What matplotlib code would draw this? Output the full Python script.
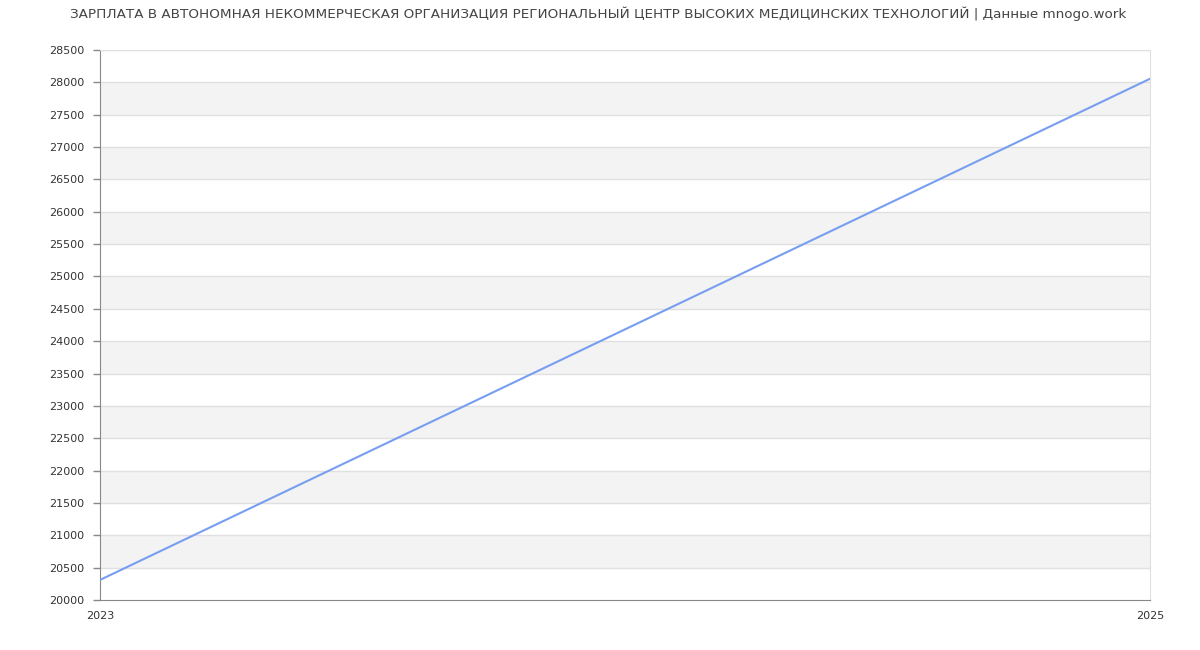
import numpy as np
import matplotlib.pyplot as plt

years = [2023, 2025]
salary = [20310, 28055]
title = 'ЗАРПЛАТА В АВТОНОМНАЯ НЕКОММЕРЧЕСКАЯ ОРГАНИЗАЦИЯ РЕГИОНАЛЬНЫЙ ЦЕНТР ВЫСОКИХ МЕДИЦИНСКИХ ТЕХНОЛОГИЙ | Данные mnogo.work'
y_ticks = np.arange(20000, 28501, 500)

plt.rcParams['font.family'] = ['DejaVu Sans']

fig = plt.figure(figsize=(12, 6.5), dpi=100)
ax = fig.add_axes([100/1200, 50/650, 1050/1200, 550/650])

# alternating bands
for i, lo in enumerate(y_ticks[:-1]):
    if i % 2 == 1:
        ax.axhspan(lo, lo + 500, color='#f3f3f3', zorder=0, lw=0)
for t in y_ticks[1:]:
    ax.axhline(t, color='#e0e0e0', lw=1, zorder=1)

ax.plot(years, salary, color='#779ef0', lw=1.5, zorder=3)

ax.set_xlim(2023, 2025)
ax.set_ylim(20000, 28500)
ax.set_yticks(y_ticks)
ax.set_xticks(years)
ax.tick_params(axis='y', labelsize=8, colors='#333333', length=5, width=1, pad=6)
ax.tick_params(axis='y', color='#888888')
ax.tick_params(axis='x', labelsize=8, colors='#333333', length=0, pad=8)
for lbl in ax.get_xticklabels():
    lbl.set_x(lbl.get_position()[0])

for s in ['left', 'bottom']:
    ax.spines[s].set_color('#888888')
for s in ['top', 'right']:
    ax.spines[s].set_color('#e0e0e0')

fig.text(0.5 - 2/1200, 1 - 14/650, title, ha='center', va='center', fontsize=9.7, color='#444444')

fig.savefig('out.png', dpi=100)
